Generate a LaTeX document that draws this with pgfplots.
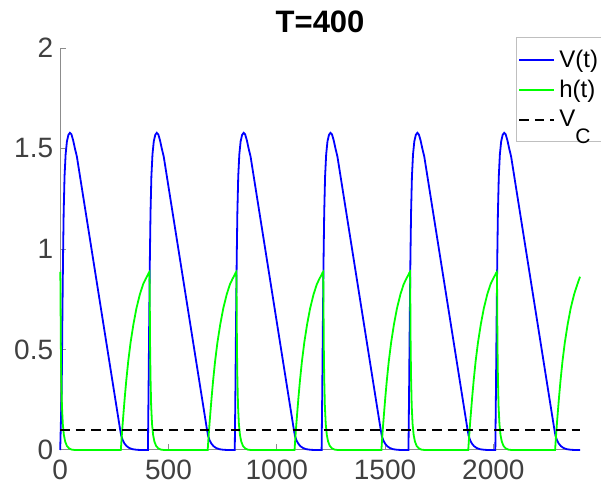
\documentclass[border=0pt]{standalone}
\usepackage{pgfplots}
\pgfplotsset{compat=1.18}
\usepackage{fontspec}
\setmainfont{Liberation Sans}
\definecolor{axgray}{gray}{0.55}
\definecolor{lblgray}{gray}{0.25}
\definecolor{vblue}{rgb}{0,0,1}
\definecolor{hgreen}{rgb}{0,1,0}
\begin{document}
\begin{tikzpicture}
\begin{axis}[
  at={(0pt,0pt)}, anchor=south west,
  width=259.9pt, height=201pt, scale only axis,
  xmin=0, xmax=2400, ymin=0, ymax=2,
  xtick={0,500,1000,1500,2000},
  ytick={0,0.5,1,1.5,2},
  axis x line*=bottom, axis y line*=left,
  axis line style={-, axgray, line width=0.5pt},
  tick style={axgray, line width=0.5pt},
  tick align=inside,
  major tick length=3pt,
  ticklabel style={font=\fontsize{14}{16}\selectfont, text=lblgray},
  xticklabel style={yshift=-1.5pt},
  /pgf/number format/assume math mode=true,
  /pgf/number format/1000 sep={},
  clip=false,
  title={\textbf{T=400}},
  title style={font=\fontsize{15.5}{18}\selectfont, at={(0.5,1)}, anchor=base, yshift=1.9pt},
  legend cell align=left,
  legend style={at={(0.877,1.027)}, anchor=north west, draw=gray!50, line width=0.5pt,
    fill=white, font=\fontsize{12}{14}\selectfont, inner xsep=1pt, inner ysep=4pt,
    row sep=1pt, cells={anchor=west}},
  legend image code/.code={\draw[#1] (0pt,0pt) -- (17.5pt,0pt);},
]
% V(t)
\addplot[vblue, line width=0.9pt] coordinates {
(0,0) (7,0.3) (10,0.65) (13,0.95) (16,1.18) (20,1.36) (25,1.47) (31,1.535) (38,1.568) (45,1.578) (52,1.57) (60,1.54) (68,1.50) (77,1.46) (104,1.276) (129,1.106) (154,0.936) (179,0.766) (204,0.596) (229,0.426) (254,0.256) (277,0.10) (282,0.07) (289,0.048) (297,0.032) (307,0.019) (319,0.01) (334,0.004) (354,0.001) (374,0)
(405,0) (408,0.3) (411,0.65) (414,0.95) (417,1.18) (421,1.36) (426,1.47) (432,1.535) (439,1.568) (446,1.578) (453,1.57) (461,1.54) (469,1.50) (478,1.46) (505,1.276) (530,1.106) (555,0.936) (580,0.766) (605,0.596) (630,0.426) (655,0.256) (678,0.10) (683,0.07) (690,0.048) (698,0.032) (708,0.019) (720,0.01) (735,0.004) (755,0.001) (775,0)
(806,0) (809,0.3) (812,0.65) (815,0.95) (818,1.18) (822,1.36) (827,1.47) (833,1.535) (840,1.568) (847,1.578) (854,1.57) (862,1.54) (870,1.50) (879,1.46) (906,1.276) (931,1.106) (956,0.936) (981,0.766) (1006,0.596) (1031,0.426) (1056,0.256) (1079,0.10) (1084,0.07) (1091,0.048) (1099,0.032) (1109,0.019) (1121,0.01) (1136,0.004) (1156,0.001) (1176,0)
(1207,0) (1210,0.3) (1213,0.65) (1216,0.95) (1219,1.18) (1223,1.36) (1228,1.47) (1234,1.535) (1241,1.568) (1248,1.578) (1255,1.57) (1263,1.54) (1271,1.50) (1280,1.46) (1307,1.276) (1332,1.106) (1357,0.936) (1382,0.766) (1407,0.596) (1432,0.426) (1457,0.256) (1480,0.10) (1485,0.07) (1492,0.048) (1500,0.032) (1510,0.019) (1522,0.01) (1537,0.004) (1557,0.001) (1577,0)
(1608,0) (1611,0.3) (1614,0.65) (1617,0.95) (1620,1.18) (1624,1.36) (1629,1.47) (1635,1.535) (1642,1.568) (1649,1.578) (1656,1.57) (1664,1.54) (1672,1.50) (1681,1.46) (1708,1.276) (1733,1.106) (1758,0.936) (1783,0.766) (1808,0.596) (1833,0.426) (1858,0.256) (1881,0.10) (1886,0.07) (1893,0.048) (1901,0.032) (1911,0.019) (1923,0.01) (1938,0.004) (1958,0.001) (1978,0)
(2009,0) (2012,0.3) (2015,0.65) (2018,0.95) (2021,1.18) (2025,1.36) (2030,1.47) (2036,1.535) (2043,1.568) (2050,1.578) (2057,1.57) (2065,1.54) (2073,1.50) (2082,1.46) (2109,1.276) (2134,1.106) (2159,0.936) (2184,0.766) (2209,0.596) (2234,0.426) (2259,0.256) (2282,0.10) (2287,0.07) (2294,0.048) (2302,0.032) (2312,0.019) (2324,0.01) (2339,0.004) (2359,0.001) (2379,0) (2400,0)
};
\addlegendentry{V(t)}
% h(t)
\addplot[hgreen, line width=0.9pt] coordinates {
(0,0.886) (1,0.84) (2,0.68) (3,0.52) (5,0.36) (8,0.22) (12,0.13) (17,0.075) (23,0.042) (31,0.02) (41,0.008) (53,0.002) (68,0)
(280,0) (284,0.065) (288,0.125) (292,0.18) (298,0.26) (305,0.345) (314,0.44) (325,0.535) (338,0.625) (352,0.705) (368,0.775) (383,0.825) (395,0.852)
(405,0.872) (409,0.882) (412,0.886) (413,0.84) (414,0.68) (415,0.52) (417,0.36) (420,0.22) (424,0.13) (429,0.075) (435,0.042) (443,0.02) (453,0.008) (465,0.002) (480,0)
(681,0) (685,0.065) (689,0.125) (693,0.18) (699,0.26) (706,0.345) (715,0.44) (726,0.535) (739,0.625) (753,0.705) (769,0.775) (784,0.825) (796,0.852)
(806,0.872) (810,0.882) (813,0.886) (814,0.84) (815,0.68) (816,0.52) (818,0.36) (821,0.22) (825,0.13) (830,0.075) (836,0.042) (844,0.02) (854,0.008) (866,0.002) (881,0)
(1082,0) (1086,0.065) (1090,0.125) (1094,0.18) (1100,0.26) (1107,0.345) (1116,0.44) (1127,0.535) (1140,0.625) (1154,0.705) (1170,0.775) (1185,0.825) (1197,0.852)
(1207,0.872) (1211,0.882) (1214,0.886) (1215,0.84) (1216,0.68) (1217,0.52) (1219,0.36) (1222,0.22) (1226,0.13) (1231,0.075) (1237,0.042) (1245,0.02) (1255,0.008) (1267,0.002) (1282,0)
(1483,0) (1487,0.065) (1491,0.125) (1495,0.18) (1501,0.26) (1508,0.345) (1517,0.44) (1528,0.535) (1541,0.625) (1555,0.705) (1571,0.775) (1586,0.825) (1598,0.852)
(1608,0.872) (1612,0.882) (1615,0.886) (1616,0.84) (1617,0.68) (1618,0.52) (1620,0.36) (1623,0.22) (1627,0.13) (1632,0.075) (1638,0.042) (1646,0.02) (1656,0.008) (1668,0.002) (1683,0)
(1884,0) (1888,0.065) (1892,0.125) (1896,0.18) (1902,0.26) (1909,0.345) (1918,0.44) (1929,0.535) (1942,0.625) (1956,0.705) (1972,0.775) (1987,0.825) (1999,0.852)
(2009,0.872) (2013,0.882) (2016,0.886) (2017,0.84) (2018,0.68) (2019,0.52) (2021,0.36) (2024,0.22) (2028,0.13) (2033,0.075) (2039,0.042) (2047,0.02) (2057,0.008) (2069,0.002) (2084,0)
(2285,0) (2289,0.065) (2293,0.125) (2297,0.18) (2303,0.26) (2310,0.345) (2319,0.44) (2330,0.535) (2343,0.625) (2357,0.705) (2373,0.775) (2388,0.825) (2400,0.862)
};
\addlegendentry{h(t)}
% V_C
\addplot[black, line width=0.9pt, dash pattern=on 4.75pt off 3pt] coordinates {(0,0.1) (2400,0.1)};
\addlegendentry{V\raisebox{-8.5pt}{\fontsize{10.5}{11}\selectfont C}}
\end{axis}
\pgfresetboundingbox
\path[use as bounding box] (-30.1pt,-21.5pt) rectangle (270.4pt,225pt);
\end{tikzpicture}
\end{document}
